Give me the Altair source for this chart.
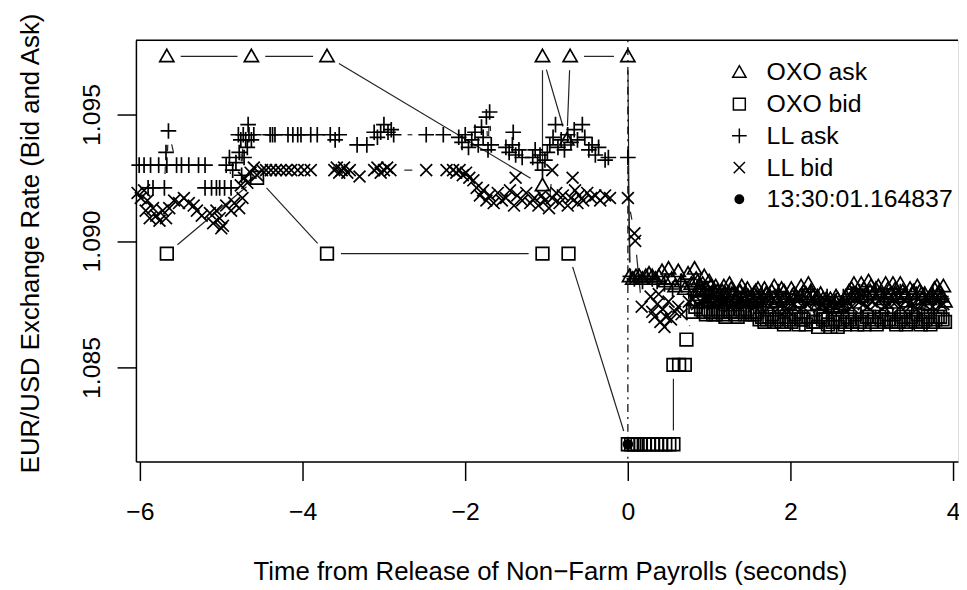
import math
import altair as alt
import pandas as pd

# ---------------- data: (seconds from release, EUR/USD rate) ----------------
oxo_ask = [
    (-5.67, 1.0973), (-4.63, 1.0973), (-3.70, 1.0973), (-1.05, 1.0922), (-1.05, 1.0973),
    (-0.75, 1.0940), (-0.71, 1.0973), (0.00, 1.0973),
    (0.02, 1.0886), (0.06, 1.0885), (0.10, 1.0886), (0.14, 1.0886), (0.18, 1.0885),
    (0.22, 1.0886), (0.26, 1.0887), (0.30, 1.0886), (0.34, 1.0885), (0.38, 1.0886),
    (0.42, 1.0888), (0.46, 1.0884), (0.50, 1.0889), (0.54, 1.0885), (0.58, 1.0882),
    (0.62, 1.0888), (0.66, 1.0884), (0.70, 1.0881), (0.74, 1.0887), (0.78, 1.0883),
    (0.82, 1.0889), (0.86, 1.0884), (0.90, 1.0880), (0.94, 1.0886), (0.98, 1.0878),
    (1.02, 1.0882), (1.06, 1.0876), (1.10, 1.0880), (1.14, 1.0877),
    (1.18, 1.0882), (1.22, 1.0878), (1.27, 1.0881), (1.32, 1.0876), (1.37, 1.0880),
    (1.42, 1.0877), (1.47, 1.0881), (1.52, 1.0878), (1.57, 1.0880), (1.62, 1.0876),
    (1.68, 1.0881), (1.74, 1.0877), (1.80, 1.0882), (1.86, 1.0878), (1.92, 1.0880),
    (1.98, 1.0875), (2.04, 1.0879), (2.10, 1.0876), (2.16, 1.0880), (2.22, 1.0883),
    (2.28, 1.0878), (2.34, 1.0875), (2.40, 1.0877), (2.46, 1.0876), (2.52, 1.0874),
    (2.58, 1.0877), (2.64, 1.0875), (2.72, 1.0880), (2.78, 1.0883), (2.84, 1.0878),
    (2.90, 1.0881), (2.96, 1.0884), (3.02, 1.0879), (3.08, 1.0882), (3.14, 1.0877),
    (3.20, 1.0881), (3.26, 1.0883), (3.32, 1.0878), (3.38, 1.0880), (3.44, 1.0876),
    (3.50, 1.0879), (3.56, 1.0882), (3.62, 1.0877), (3.68, 1.0875), (3.74, 1.0879),
    (3.80, 1.0882), (3.86, 1.0878), (3.90, 1.0876),
    (0.84, 1.0885), (0.88, 1.0882), (0.92, 1.0883), (0.96, 1.0881), (1.00, 1.0884),
    (1.04, 1.0879), (1.08, 1.0882), (1.12, 1.0879), (1.16, 1.0880), (1.20, 1.0879),
    (1.25, 1.0883), (1.30, 1.0879), (1.35, 1.0878), (1.40, 1.0882), (1.45, 1.0879),
    (1.50, 1.0876), (1.55, 1.0879), (1.60, 1.0881), (1.65, 1.0878), (1.71, 1.0879),
    (1.77, 1.0880), (1.83, 1.0876), (1.89, 1.0881), (1.95, 1.0878), (2.01, 1.0881),
    (2.07, 1.0878), (2.13, 1.0882), (2.19, 1.0879), (2.25, 1.0880), (2.31, 1.0877),
    (2.37, 1.0879), (2.43, 1.0875), (2.49, 1.0877), (2.55, 1.0876), (2.61, 1.0874),
    (2.68, 1.0878), (2.75, 1.0881), (2.81, 1.0879), (2.87, 1.0883), (2.93, 1.0879),
    (2.99, 1.0882), (3.05, 1.0881), (3.11, 1.0879), (3.17, 1.0883), (3.23, 1.0879),
    (3.29, 1.0881), (3.35, 1.0883), (3.41, 1.0879), (3.47, 1.0881), (3.53, 1.0877),
    (3.59, 1.0880), (3.65, 1.0879), (3.71, 1.0877), (3.77, 1.0881), (3.83, 1.0880),
    (3.88, 1.0882),
    (0.87, 1.0880), (0.97, 1.0881), (1.07, 1.0879), (1.17, 1.0878), (1.28, 1.0879),
    (1.38, 1.0880), (1.48, 1.0878), (1.58, 1.0878), (1.70, 1.0879), (1.81, 1.0878),
    (1.91, 1.0877), (2.02, 1.0878), (2.12, 1.0878), (2.23, 1.0877), (2.33, 1.0878),
    (2.44, 1.0877), (2.56, 1.0878), (2.66, 1.0877), (2.77, 1.0879), (2.88, 1.0878),
    (2.98, 1.0880), (3.09, 1.0879), (3.19, 1.0878), (3.30, 1.0879), (3.40, 1.0878),
    (3.51, 1.0880), (3.61, 1.0879), (3.72, 1.0878), (3.82, 1.0879),
]

oxo_bid = [
    (-5.67, 1.0895), (-4.56, 1.0925), (-3.70, 1.0895), (-1.05, 1.0895), (-0.73, 1.0895),
    (0.00, 1.08196), (0.04, 1.08196), (0.08, 1.08196), (0.12, 1.08196), (0.16, 1.08196),
    (0.21, 1.08196), (0.26, 1.08196), (0.31, 1.08196), (0.36, 1.08196), (0.41, 1.08196),
    (0.46, 1.08196), (0.51, 1.08196), (0.56, 1.08196),
    (0.56, 1.0851), (0.63, 1.0851), (0.70, 1.0851), (0.72, 1.0861),
    (0.80, 1.0872), (0.85, 1.0876), (0.90, 1.0873), (0.96, 1.0871), (1.02, 1.0872),
    (1.08, 1.0871), (1.14, 1.0872), (1.20, 1.0870), (1.26, 1.0872), (1.32, 1.0871),
    (1.38, 1.0873), (1.44, 1.0871), (1.50, 1.0872), (1.56, 1.0871), (1.62, 1.0869),
    (1.68, 1.0868), (1.74, 1.0870), (1.80, 1.0868), (1.86, 1.0870), (1.92, 1.0867),
    (1.98, 1.0869), (2.04, 1.0871), (2.10, 1.0867), (2.16, 1.0869), (2.22, 1.0870),
    (2.28, 1.0868), (2.34, 1.0866), (2.40, 1.0869), (2.46, 1.0867), (2.52, 1.0868),
    (2.58, 1.0866), (2.64, 1.0869), (2.70, 1.0870), (2.76, 1.0868), (2.82, 1.0867),
    (2.88, 1.0869), (2.94, 1.0870), (3.00, 1.0868), (3.06, 1.0867), (3.12, 1.0869),
    (3.18, 1.0871), (3.24, 1.0868), (3.30, 1.0867), (3.36, 1.0869), (3.42, 1.0867),
    (3.48, 1.0870), (3.54, 1.0868), (3.60, 1.0867), (3.66, 1.0869), (3.72, 1.0867),
    (3.78, 1.0869), (3.84, 1.0870), (3.90, 1.0868),
    (0.83, 1.0874), (0.93, 1.0872), (0.99, 1.0873), (1.05, 1.0871), (1.11, 1.0873),
    (1.17, 1.0871), (1.23, 1.0873), (1.29, 1.0872), (1.35, 1.0870), (1.41, 1.0872),
    (1.47, 1.0873), (1.53, 1.0871), (1.59, 1.0872), (1.65, 1.0870), (1.71, 1.0869),
    (1.77, 1.0871), (1.83, 1.0869), (1.89, 1.0868), (1.95, 1.0870), (2.01, 1.0868),
    (2.07, 1.0870), (2.13, 1.0869), (2.19, 1.0867), (2.25, 1.0870), (2.31, 1.0868),
    (2.37, 1.0870), (2.43, 1.0869), (2.49, 1.0866), (2.55, 1.0869), (2.61, 1.0868),
    (2.67, 1.0867), (2.73, 1.0869), (2.79, 1.0871), (2.85, 1.0868), (2.91, 1.0867),
    (2.97, 1.0870), (3.03, 1.0869), (3.09, 1.0870), (3.15, 1.0868), (3.21, 1.0869),
    (3.27, 1.0871), (3.33, 1.0868), (3.39, 1.0870), (3.45, 1.0868), (3.51, 1.0869),
    (3.57, 1.0871), (3.63, 1.0868), (3.69, 1.0870), (3.75, 1.0868), (3.81, 1.0870),
    (3.87, 1.0869),
]

ll_ask = [
    (-6.01, 1.0930), (-5.95, 1.0930), (-5.90, 1.0921), (-5.87, 1.0930), (-5.84, 1.0921),
    (-5.77, 1.0930), (-5.70, 1.0921), (-5.68, 1.0935), (-5.67, 1.0930), (-5.65, 1.09435),
    (-5.55, 1.0930), (-5.49, 1.0930), (-5.40, 1.0930), (-5.28, 1.0930), (-5.20, 1.0930),
    (-5.20, 1.0921), (-5.12, 1.0921), (-5.06, 1.0921), (-5.02, 1.0921), (-4.96, 1.0921),
    (-4.94, 1.0930), (-4.90, 1.0933), (-4.88, 1.0921), (-4.86, 1.0928), (-4.82, 1.0931),
    (-4.79, 1.0942), (-4.78, 1.0935), (-4.76, 1.0940), (-4.75, 1.0926), (-4.73, 1.0942),
    (-4.72, 1.0933), (-4.70, 1.0940), (-4.68, 1.0937), (-4.67, 1.0946), (-4.66, 1.0942),
    (-4.63, 1.0940), (-4.60, 1.0942),
    (-4.40, 1.0942), (-4.37, 1.0942), (-4.34, 1.0942), (-4.18, 1.0942), (-4.12, 1.0942),
    (-4.06, 1.0942), (-4.02, 1.0942), (-3.90, 1.0942), (-3.82, 1.0942),
    (-3.66, 1.0942), (-3.60, 1.0940), (-3.55, 1.0942), (-3.33, 1.0938), (-3.21, 1.0938),
    (-3.12, 1.0943), (-3.08, 1.0941), (-3.04, 1.0943), (-3.00, 1.0946), (-2.95, 1.0943),
    (-2.91, 1.0944), (-2.88, 1.0942), (-2.48, 1.0942), (-2.27, 1.0942),
    (-2.08, 1.0941), (-2.04, 1.0939), (-2.00, 1.0942), (-1.96, 1.0937), (-1.92, 1.0940),
    (-1.88, 1.0943), (-1.84, 1.0938), (-1.80, 1.0945), (-1.78, 1.0941), (-1.74, 1.0949),
    (-1.72, 1.0936), (-1.70, 1.0951), (-1.68, 1.0938),
    (-1.50, 1.0937), (-1.46, 1.0935), (-1.42, 1.0938), (-1.41, 1.0943), (-1.38, 1.0934),
    (-1.34, 1.0936), (-1.30, 1.0933),
    (-1.17, 1.0933), (-1.14, 1.0936), (-1.11, 1.0931), (-1.08, 1.0934), (-1.05, 1.0928),
    (-1.02, 1.0932), (-0.99, 1.0935), (-0.96, 1.0938), (-0.92, 1.0941), (-0.89, 1.0946),
    (-0.86, 1.0937), (-0.82, 1.0940), (-0.78, 1.0936), (-0.74, 1.0942), (-0.70, 1.0939),
    (-0.66, 1.0944), (-0.62, 1.0940), (-0.56, 1.0946), (-0.53, 1.0941),
    (-0.48, 1.0936), (-0.44, 1.0938), (-0.40, 1.0934), (-0.36, 1.0937), (-0.28, 1.0932),
    (-0.24, 1.0933), (0.00, 1.0933),
    (0.03, 1.0886), (0.08, 1.0885), (0.13, 1.0886), (0.18, 1.0884), (0.24, 1.0886),
    (0.30, 1.0885), (0.36, 1.0884), (0.45, 1.0883), (0.55, 1.0881), (0.65, 1.0884),
    (0.75, 1.0880), (0.85, 1.0882), (0.95, 1.0879), (1.05, 1.0881), (1.15, 1.0878),
    (1.25, 1.0880), (1.35, 1.0878), (1.45, 1.0880), (1.55, 1.0877), (1.65, 1.0879),
    (1.75, 1.0878), (1.85, 1.0880), (1.95, 1.0877), (2.05, 1.0879), (2.15, 1.0878),
    (2.25, 1.0880), (2.35, 1.0877), (2.45, 1.0878), (2.55, 1.0876), (2.65, 1.0878),
    (2.75, 1.0879), (2.85, 1.0880), (2.95, 1.0878), (3.05, 1.0880), (3.15, 1.0878),
    (3.25, 1.0879), (3.35, 1.0880), (3.45, 1.0877), (3.55, 1.0879), (3.65, 1.0878),
    (3.75, 1.0879), (3.85, 1.0878),
]

ll_bid = [
    (-6.03, 1.0919), (-5.99, 1.0917), (-5.95, 1.0920), (-5.93, 1.0912), (-5.91, 1.0916),
    (-5.88, 1.0909), (-5.84, 1.0913), (-5.80, 1.0910), (-5.76, 1.0908), (-5.72, 1.0912),
    (-5.68, 1.0909), (-5.64, 1.0913), (-5.58, 1.0916), (-5.52, 1.0915), (-5.46, 1.0917),
    (-5.40, 1.0915), (-5.34, 1.0914), (-5.30, 1.0912), (-5.24, 1.0910),
    (-5.14, 1.0911), (-5.10, 1.0907), (-5.06, 1.0912), (-5.02, 1.0909), (-5.00, 1.0905),
    (-4.98, 1.0906), (-4.94, 1.0914), (-4.88, 1.0912), (-4.84, 1.0915), (-4.78, 1.0913),
    (-4.76, 1.0922), (-4.74, 1.0917), (-4.72, 1.0925), (-4.68, 1.0923), (-4.64, 1.0927),
    (-4.60, 1.0929), (-4.56, 1.0926),
    (-4.50, 1.0928), (-4.45, 1.0928), (-4.39, 1.0928), (-4.33, 1.0928), (-4.27, 1.0928),
    (-4.20, 1.0928), (-4.14, 1.0928), (-4.06, 1.0928), (-3.98, 1.0928), (-3.90, 1.0928),
    (-3.61, 1.0928), (-3.58, 1.0929), (-3.55, 1.0927), (-3.52, 1.0928), (-3.49, 1.0929),
    (-3.45, 1.0927), (-3.42, 1.0928), (-3.30, 1.09255),
    (-3.12, 1.0928), (-3.08, 1.0929), (-3.04, 1.0927), (-3.00, 1.0928), (-2.96, 1.0929),
    (-2.92, 1.0928), (-2.48, 1.0928), (-2.23, 1.0928),
    (-2.15, 1.0928), (-2.11, 1.0927), (-2.07, 1.0928), (-2.03, 1.0926), (-1.99, 1.0927),
    (-1.95, 1.0925), (-1.90, 1.0924), (-1.86, 1.0921), (-1.82, 1.0918), (-1.78, 1.0920),
    (-1.74, 1.0916), (-1.70, 1.0918), (-1.65, 1.0915), (-1.60, 1.0919), (-1.55, 1.0916),
    (-1.50, 1.0917), (-1.45, 1.0920), (-1.40, 1.0914), (-1.38, 1.0925), (-1.36, 1.0918),
    (-1.30, 1.0916), (-1.25, 1.0919), (-1.20, 1.0915), (-1.15, 1.0917), (-1.10, 1.0914),
    (-1.06, 1.0918), (-1.02, 1.0916), (-0.97, 1.0913), (-0.93, 1.0928), (-0.93, 1.0917),
    (-0.88, 1.0919), (-0.84, 1.0915), (-0.80, 1.0918), (-0.74, 1.0914), (-0.70, 1.0917),
    (-0.68, 1.0925), (-0.65, 1.0920), (-0.62, 1.0915), (-0.60, 1.0918), (-0.55, 1.0916),
    (-0.50, 1.0919), (-0.45, 1.0917), (-0.40, 1.0918), (-0.34, 1.0916), (-0.28, 1.0918),
    (-0.22, 1.0917), (0.00, 1.0917),
    (0.08, 1.0903), (0.09, 1.0900), (0.17, 1.0874), (0.28, 1.0878), (0.30, 1.0872),
    (0.33, 1.0870), (0.36, 1.0875), (0.38, 1.0879), (0.40, 1.0868), (0.43, 1.0873),
    (0.45, 1.0866), (0.47, 1.0870), (0.50, 1.0876), (0.53, 1.0869), (0.58, 1.0872),
    (0.62, 1.0874), (0.66, 1.0871),
    (0.75, 1.0876), (0.85, 1.0875), (0.95, 1.0877), (1.05, 1.0875), (1.15, 1.0876),
    (1.25, 1.0874), (1.35, 1.0876), (1.45, 1.0875), (1.55, 1.0874), (1.65, 1.0876),
    (1.75, 1.0874), (1.85, 1.0875), (1.95, 1.0873), (2.05, 1.0875), (2.15, 1.0874),
    (2.25, 1.0876), (2.35, 1.0874), (2.45, 1.0873), (2.55, 1.0874), (2.65, 1.0875),
    (2.75, 1.0874), (2.85, 1.0876), (2.95, 1.0874), (3.05, 1.0875), (3.15, 1.0874),
    (3.25, 1.0876), (3.35, 1.0874), (3.45, 1.0875), (3.55, 1.0873), (3.65, 1.0875),
    (3.75, 1.0874), (3.85, 1.0875),
    (0.80, 1.0877), (0.90, 1.0876), (1.00, 1.0877), (1.10, 1.0876), (1.20, 1.0877),
    (1.30, 1.0875), (1.40, 1.0877), (1.50, 1.0876), (1.60, 1.0875), (1.70, 1.0877),
    (1.80, 1.0876), (1.90, 1.0875), (2.00, 1.0876), (2.10, 1.0877), (2.20, 1.0875),
    (2.30, 1.0876), (2.40, 1.0875), (2.50, 1.0876), (2.60, 1.0875), (2.70, 1.0876),
    (2.80, 1.0877), (2.90, 1.0875), (3.00, 1.0876), (3.10, 1.0877), (3.20, 1.0875),
    (3.30, 1.0876), (3.40, 1.0877), (3.50, 1.0875), (3.60, 1.0876), (3.70, 1.0877),
    (3.80, 1.0876), (3.88, 1.0875),
]

release_pt = [(0.00, 1.08196)]

series_names = ["OXO ask", "OXO bid", "LL ask", "LL bid", "13:30:01.164837"]
x_ticks = [-6, -4, -2, 0, 2, 4]
y_ticks = [1.085, 1.090, 1.095]
release_line = [0.0]

# ---------------- layout / scales ----------------
W, H = 829, 425
X_DOM = [-6.05, 4.06]
Y_DOM = [1.081275, 1.097941]
FONT = "Liberation Sans"
FS = 25
GAP = 14.0  # px gap around points for the point-and-line style

SX = W / (X_DOM[1] - X_DOM[0])
SY = H / (Y_DOM[1] - Y_DOM[0])

all_series = [oxo_ask, oxo_bid, ll_ask, ll_bid, release_pt]

pts_rows = []
for name, ser in zip(series_names, all_series):
    for t, p in ser:
        pts_rows.append({"series": name, "t": t, "p": p})
pts_df = pd.DataFrame(pts_rows)

seg_rows = []
for name, ser in zip(series_names[:4], all_series[:4]):
    s = sorted(ser, key=lambda a: a[0])
    for (t1, p1), (t2, p2) in zip(s[:-1], s[1:]):
        dx = (t2 - t1) * SX
        dy = (p2 - p1) * SY
        d = math.hypot(dx, dy)
        if d <= 2 * GAP:
            continue
        f = GAP / d
        seg_rows.append({
            "series": name,
            "t": t1 + (t2 - t1) * f, "p": p1 + (p2 - p1) * f,
            "t2": t2 - (t2 - t1) * f, "p2": p2 - (p2 - p1) * f,
        })
seg_df = pd.DataFrame(seg_rows)

x_axis = alt.Axis(
    values=x_ticks, format="d",
    title="Time from Release of Non\u2212Farm Payrolls (seconds)",
    grid=False, domainColor="black", domainWidth=1.5,
    tickColor="black", tickWidth=1.5, tickSize=19,
    labelFont=FONT, labelFontSize=FS, labelColor="black",
    labelPadding=39, labelBaseline="alphabetic", labelFlush=False, labelOverlap=False,
    titleFont=FONT, titleFontSize=26, titleFontWeight="normal", titleColor="black",
    titleBaseline="alphabetic", titleY=119, titleX=W / 2 + 3, titleAlign="center",
)
y_axis = alt.Axis(
    values=y_ticks, format=".3f",
    title="EUR/USD Exchange Rate (Bid and Ask)",
    grid=False, domainColor="black", domainWidth=1.5,
    tickColor="black", tickWidth=1.5, tickSize=19,
    labelFont=FONT, labelFontSize=FS, labelColor="black",
    labelAngle=270, labelAlign="center", labelBaseline="alphabetic",
    labelPadding=18, labelFlush=False, labelOverlap=False,
    titleFont=FONT, titleFontSize=26, titleFontWeight="normal", titleColor="black",
    titleAngle=270, titleBaseline="alphabetic", titleAlign="center",
    titleX=-98, titleY=H / 2 - 8,
)

x_scale = alt.Scale(domain=X_DOM, nice=False, zero=False)
y_scale = alt.Scale(domain=Y_DOM, nice=False, zero=False)

x_enc = alt.X("t:Q", scale=x_scale, axis=x_axis)
y_enc = alt.Y("p:Q", scale=y_scale, axis=y_axis)

shape_paths = [
    "M0,-0.95L0.95,0.7L-0.95,0.7Z",
    "M-0.85,-0.85L0.85,-0.85L0.85,0.85L-0.85,0.85Z",
    "M-1.05,0L1.05,0M0,-1.05L0,1.05",
    "M-0.8,-0.8L0.8,0.8M-0.8,0.8L0.8,-0.8",
    "M-0.6,0A0.6,0.6,0,1,0,0.6,0A0.6,0.6,0,1,0,-0.6,0Z",
]
fill_colors = ["transparent", "transparent", "transparent", "transparent", "black"]
stroke_colors = ["black", "black", "black", "black", "black"]

legend = alt.Legend(
    orient="none", legendX=596, legendY=20, title=None,
    labelFont=FONT, labelFontSize=FS, labelColor="black", labelLimit=0,
    labelOffset=15, rowPadding=6, padding=0,
    symbolSize=200, symbolStrokeWidth=1.5,
)

seg_layer = alt.Chart(seg_df).mark_rule(color="#222222", strokeWidth=1.2).encode(
    x=x_enc, y=y_enc, x2=alt.X2("t2"), y2=alt.Y2("p2"),
)

vline_layer = alt.Chart(pd.DataFrame({"t": release_line})).mark_rule(
    color="black", strokeWidth=1.2, strokeDash=[2, 5, 8, 5]
).encode(x=x_enc)

pts_layer = alt.Chart(pts_df).mark_point(
    filled=True, strokeWidth=1.7, size=225, opacity=1
).encode(
    x=x_enc, y=y_enc,
    shape=alt.Shape("series:N", scale=alt.Scale(domain=series_names, range=shape_paths), legend=legend),
    fill=alt.Fill("series:N", scale=alt.Scale(domain=series_names, range=fill_colors), legend=legend),
    stroke=alt.Stroke("series:N", scale=alt.Scale(domain=series_names, range=stroke_colors), legend=legend),
)

top_layer = alt.Chart(pd.DataFrame({"t": [0]})).mark_rule(color="black", strokeWidth=1.5).encode(
    x=alt.value(0), x2=alt.value(W), y=alt.value(0),
)

chart = alt.layer(seg_layer, vline_layer, pts_layer, top_layer).properties(
    width=W, height=H,
    autosize=alt.AutoSizeParams(type="none"),
    padding={"left": 129, "top": 30, "right": 1, "bottom": 122},
).configure_view(strokeWidth=0).configure(font=FONT, background="white")

chart.save("out.html", embed_options={"renderer": "svg", "actions": False})
